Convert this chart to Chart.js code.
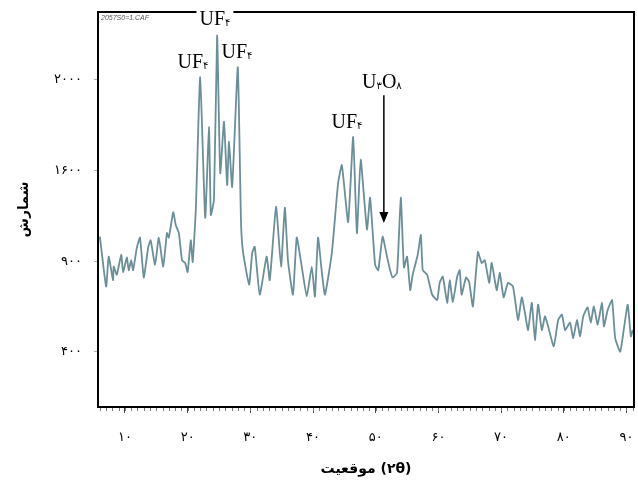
<!DOCTYPE html>
<html>
<head>
<meta charset="utf-8">
<script src="https://cdn.jsdelivr.net/npm/chart.js@4/dist/chart.umd.min.js"></script>
<style>
  html, body { margin: 0; background: #fff; }
</style>
</head>
<body>
<canvas id="xrd" width="638" height="486"></canvas>
<script>
// 2θ (degrees) of each point
const twoTheta = [
  6.0, 7.0, 7.4, 8.1, 8.2, 8.7, 9.4, 9.7, 10.3, 10.6, 11.0, 11.3, 11.9, 12.4, 13.0, 13.7,
  14.1, 14.8, 15.4, 16.1, 16.7, 17.0, 17.7, 18.1, 18.6, 19.1, 19.6, 20.0, 20.5, 20.8, 21.3,
  22.0, 22.8, 23.4, 23.7, 24.2, 24.7, 25.2, 25.8, 26.3, 26.6, 27.1, 28.0, 28.5, 28.8, 29.8,
  30.3, 30.7, 31.5, 32.6, 33.1, 34.1, 34.9, 35.5, 36.0, 36.8, 37.4, 38.2, 39.0, 39.8, 40.3,
  40.8, 41.4, 41.9, 43.0, 44.0, 44.6, 45.6, 46.4, 47.0, 47.6, 48.6, 49.1, 49.9, 50.4, 51.1,
  51.8, 52.3, 52.7, 53.4, 54.0, 54.5, 55.0, 55.5, 55.9, 56.7, 57.2, 57.5, 58.2, 59.0, 59.8,
  60.2, 60.7, 61.4, 61.8, 62.3, 63.0, 63.4, 63.7, 64.4, 64.9, 65.5, 66.3, 66.9, 67.4, 68.1,
  68.5, 69.3, 69.8, 70.4, 71.1, 71.9, 72.7, 73.3, 73.8, 74.3, 74.9, 75.4, 75.9, 76.5, 77.0,
  77.5, 78.4, 79.1, 79.7, 80.2, 81.0, 81.5, 82.1, 82.6, 83.1, 83.8, 84.3, 84.8, 85.4, 86.1,
  86.4, 87.0, 87.7, 88.2, 89.0, 89.6, 90.2, 90.7, 91.0,
];
// intensity, in steps of the printed y ticks (0 = ۴۰۰, 1 = ۹۰۰, 2 = ۱۶۰۰, 3 = ۲۰۰۰)
const intensity = [
  1.27, 0.72, 1.05, 0.79, 0.94, 0.85, 1.07, 0.88, 1.04, 0.90, 1.01, 0.90, 1.15, 1.26, 0.82, 1.15,
  1.23, 0.96, 1.26, 0.94, 1.31, 1.26, 1.54, 1.40, 1.31, 1.01, 0.98, 0.88, 1.23, 0.99, 1.57,
  3.03, 1.48, 2.48, 1.51, 1.68, 3.49, 1.97, 2.54, 1.84, 2.32, 1.82, 3.14, 1.46, 1.12, 0.74,
  1.09, 1.16, 0.63, 1.05, 0.79, 1.60, 0.94, 1.59, 1.01, 0.63, 1.26, 0.94, 0.61, 0.94, 0.61,
  1.26, 0.88, 0.63, 1.09, 1.86, 2.06, 1.43, 2.37, 1.31, 2.12, 1.35, 1.70, 0.96, 0.90, 1.27,
  1.05, 0.90, 0.82, 0.87, 1.70, 0.93, 1.05, 0.68, 0.85, 1.07, 1.29, 0.90, 0.85, 0.63, 0.57,
  0.76, 0.83, 0.54, 0.79, 0.55, 0.83, 0.90, 0.63, 0.82, 0.77, 0.50, 1.10, 0.98, 1.01, 0.76,
  0.98, 0.68, 0.87, 0.60, 0.76, 0.72, 0.35, 0.60, 0.43, 0.24, 0.54, 0.13, 0.52, 0.24, 0.39,
  0.28, 0.06, 0.35, 0.41, 0.24, 0.32, 0.15, 0.35, 0.17, 0.39, 0.49, 0.32, 0.50, 0.30, 0.54,
  0.28, 0.46, 0.57, 0.15, 0.00, 0.26, 0.52, 0.17, 0.24,
];
const yTickLabels = ['۴۰۰', '۹۰۰', '۱۶۰۰', '۲۰۰۰'];
const xTickValues = [10, 20, 30, 40, 50, 60, 70, 80, 90];

// phase labels: text parts (sub = subscript) anchored at a 2θ / intensity centre
const phaseLabels = [
  { parts: [['UF'], ['۴', 1]], x: 20.85, y: 3.21 },
  { parts: [['UF'], ['۴', 1]], x: 24.35, y: 3.68, box: true },
  { parts: [['UF'], ['۴', 1]], x: 27.86, y: 3.32 },
  { parts: [['UF'], ['۴', 1]], x: 45.41, y: 2.55 },
  { parts: [['U'], ['۳', 1], ['O'], ['۸', 1]], x: 50.99, y: 2.99 },
];
const arrow = { x: 51.3, from: 2.83, to: 1.42 };

const FA = '۰۱۲۳۴۵۶۷۸۹';
const toFa = (n) => String(n).replace(/\d/g, (d) => FA[d]);
const isInt = (v) => Math.abs(v - Math.round(v)) < 1e-6;

// frame, minor ticks, file name, phase labels and the U3O8 arrow
const decor = {
  id: 'decor',
  afterDatasetsDraw(chart) {
    const { ctx, chartArea: a, scales: { x, y } } = chart;
    ctx.save();
    ctx.strokeStyle = '#000';
    ctx.lineWidth = 2;
    ctx.strokeRect(a.left, a.top, a.right - a.left, a.bottom - a.top);

    ctx.strokeStyle = '#777';
    ctx.lineWidth = 1;
    ctx.beginPath();
    for (let v = Math.ceil(x.min); v <= x.max; v++) {
      const px = Math.round(x.getPixelForValue(v)) + 0.5;
      ctx.moveTo(px, a.bottom + 1);
      ctx.lineTo(px, a.bottom + 4);
    }
    ctx.stroke();

    ctx.fillStyle = '#555';
    ctx.font = 'italic 7px "Liberation Sans"';
    ctx.textBaseline = 'top';
    ctx.fillText('2057S0=1.CAF', a.left + 3, a.top + 3);

    // arrow
    const ax = x.getPixelForValue(arrow.x);
    const y0 = y.getPixelForValue(arrow.from);
    const y1 = y.getPixelForValue(arrow.to);
    ctx.strokeStyle = '#000';
    ctx.fillStyle = '#000';
    ctx.lineWidth = 1.5;
    ctx.beginPath();
    ctx.moveTo(ax, y0);
    ctx.lineTo(ax, y1 - 10);
    ctx.stroke();
    ctx.beginPath();
    ctx.moveTo(ax - 4.5, y1 - 11);
    ctx.lineTo(ax + 4.5, y1 - 11);
    ctx.lineTo(ax, y1);
    ctx.closePath();
    ctx.fill();

    const mainFont = '20px "Liberation Serif"';
    const subFont = '10px "DejaVu Sans"';
    ctx.textBaseline = 'alphabetic';
    for (const lb of phaseLabels) {
      const widths = lb.parts.map(([t, sub]) => {
        ctx.font = sub ? subFont : mainFont;
        return ctx.measureText(t).width;
      });
      const total = widths.reduce((s, w) => s + w, 0);
      const cx = x.getPixelForValue(lb.x);
      const cy = y.getPixelForValue(lb.y);
      let px = cx - total / 2;
      if (lb.box) {
        ctx.fillStyle = '#fff';
        ctx.fillRect(px - 3, cy - 10, total + 6, 20);
      }
      ctx.fillStyle = '#000';
      lb.parts.forEach(([t, sub], i) => {
        ctx.font = sub ? subFont : mainFont;
        ctx.fillText(t, px, sub ? cy + 8 : cy + 7);
        px += widths[i];
      });
    }
    ctx.restore();
  },
};

Chart.defaults.animation = false;

new Chart(document.getElementById('xrd'), {
  type: 'line',
  data: {
    datasets: [{
      data: twoTheta.map((t, i) => ({ x: t, y: intensity[i] })),
      borderColor: '#6b8f99',
      borderWidth: 1.8,
      pointRadius: 0,
      tension: 0.15,
      fill: false,
    }],
  },
  options: {
    responsive: false,
    devicePixelRatio: 1,
    layout: { padding: { left: 0, right: 4, top: 12, bottom: 0 } },
    plugins: { legend: { display: false }, tooltip: { enabled: false } },
    scales: {
      x: {
        type: 'linear',
        min: 5.7,
        max: 91.2,
        afterBuildTicks: (s) => { s.ticks = xTickValues.map((v) => ({ value: v })); },
        afterFit: (s) => { s.height = 79; s.paddingLeft = 0; s.paddingRight = 0; },
        ticks: {
          autoSkip: false,
          maxRotation: 0,
          padding: 17,
          color: '#000',
          font: { family: 'DejaVu Sans', size: 13 },
          callback: (v) => toFa(v),
        },
        grid: { drawOnChartArea: false, tickLength: 6, tickColor: '#444' },
        border: { display: false },
        title: {
          display: true,
          text: '\u200Eموقعیت \u200E(۲θ)',
          color: '#000',
          font: { family: 'DejaVu Sans', size: 14, weight: 'bold' },
          padding: { top: 0, bottom: 8 },
        },
      },
      y: {
        type: 'linear',
        min: -0.61,
        max: 3.75,
        afterBuildTicks: (s) => { s.ticks = yTickLabels.map((_, i) => ({ value: i })); },
        afterFit: (s) => { s.width = 98; s.paddingTop = 0; s.paddingBottom = 0; },
        ticks: {
          padding: 12,
          color: '#000',
          font: { family: 'DejaVu Sans', size: 13 },
          callback: (v) => (isInt(v) ? yTickLabels[Math.round(v)] : ''),
        },
        grid: { drawOnChartArea: false, tickLength: 4, tickColor: '#aaa' },
        border: { display: false },
        title: {
          display: true,
          text: 'شمارش',
          color: '#000',
          font: { family: 'DejaVu Sans', size: 14, weight: 'bold' },
          padding: { top: 16, bottom: 0 },
        },
      },
    },
  },
  plugins: [decor],
});
</script>
</body>
</html>
